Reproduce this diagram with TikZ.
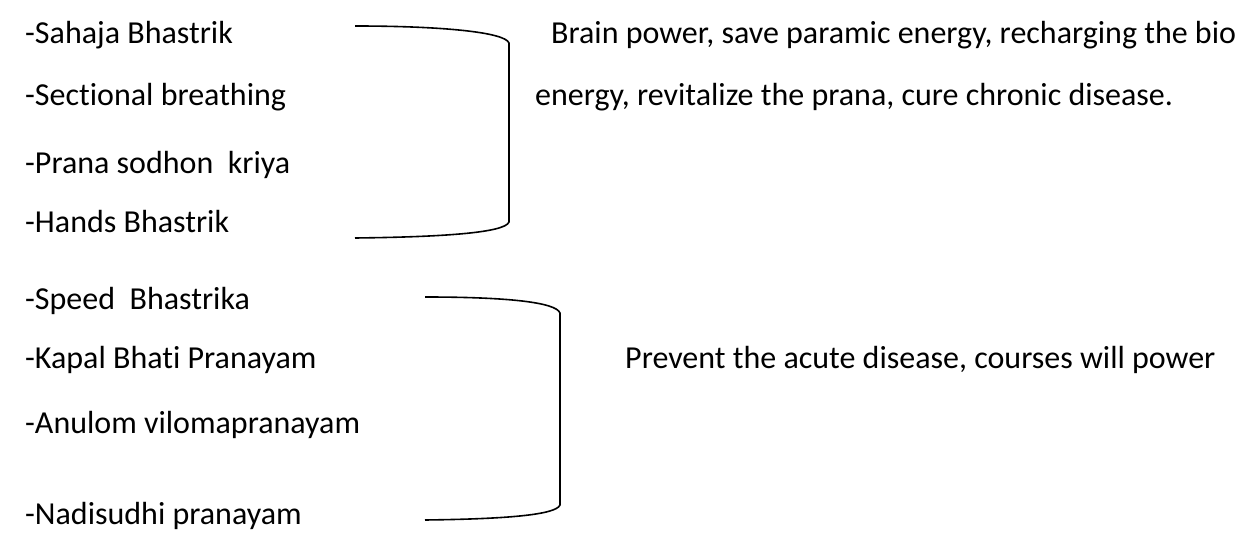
\documentclass[tikz,border=0pt]{standalone}
\usepackage{fontspec}
\setmainfont{Carlito}[Ligatures=NoCommon]
\begin{document}
\begin{tikzpicture}[x=1pt,y=-1pt,
  lbl/.style={anchor=base west,inner sep=0pt,font=\fontsize{32}{36}\selectfont},
  brk/.style={line width=1.6pt}]
\useasboundingbox (0,0) rectangle (1256,540);
\node[lbl] (a1) at (25,44) {-Sahaja Bhastrik};
\node[lbl] (a2) at (25,106) {-Sectional breathing};
\node[lbl] (a3) at (25,174) {-Prana sodhon\ \ kriya};
\node[lbl] (a4) at (25,233) {-Hands Bhastrik};
\node[lbl] (b1) at (25,309) {-Speed\ \ Bhastrika};
\node[lbl] (b2) at (25,368) {-Kapal Bhati Pranayam};
\node[lbl] (b3) at (25,433) {-Anulom vilomapranayam};
\node[lbl] (b4) at (25,524) {-Nadisudhi pranayam};
\node[lbl] (r1) at (551,44) {Brain power, save paramic energy, recharging the bio};
\node[lbl] (r2) at (535,106) {energy, revitalize the prana, cure chronic disease.};
\node[lbl] (r3) at (625,368) {Prevent the acute disease, courses will power};
% bracket 1
\coordinate (t1) at (355,26);
\coordinate (c1) at (509,43);
\coordinate (d1) at (509,222);
\coordinate (e1) at (355,238);
\draw[brk] (t1) .. controls (440,26) and (505,32) .. (c1) -- (d1) .. controls (505,233) and (440,237) .. (e1);
% bracket 2
\coordinate (t2) at (425,297);
\coordinate (c2) at (560,313);
\coordinate (d2) at (560,505);
\coordinate (e2) at (425,520);
\draw[brk] (t2) .. controls (505,297) and (556,302) .. (c2) -- (d2) .. controls (556,515) and (505,519) .. (e2);
\end{tikzpicture}
\end{document}
